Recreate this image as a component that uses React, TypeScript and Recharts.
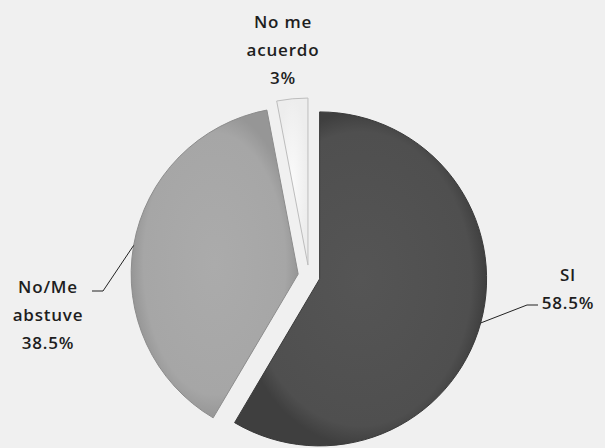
import { PieChart, Pie, Cell, Sector } from "recharts";

const categories = ["SI", "No/Me abstuve", "No me acuerdo"];
const values = [58.5, 38.5, 3];
const labelLines = [
  ["SI", "58.5%"],
  ["No/Me", "abstuve", "38.5%"],
  ["No me", "acuerdo", "3%"],
];

const data = categories.map((name, i) => ({ name, value: values[i] }));

const W = 605;
const H = 448;
const EXPLODE = 11;
const RAD = Math.PI / 180;

const fills = ["url(#gSi)", "url(#gNo)", "url(#gNr)"];
const strokes = ["#3a3a3a", "#8c8c8c", "#bdbdbd"];

// label placement relative to the pie centre; leader = elbow and end points
const labelLayout = [
  { dx: 259, dy: -2, leader: [[218, 29], [229, 29]] },
  { dx: -261, dy: 10, leader: [[-206, 15], [-217, 15]] },
  { dx: -26, dy: -255, leader: null },
];

function explodeOffset(midAngle: number) {
  return {
    x: EXPLODE * Math.cos(-midAngle * RAD),
    y: EXPLODE * Math.sin(-midAngle * RAD),
  };
}

function renderSlice(props: any) {
  const { cx, cy, midAngle, innerRadius, outerRadius, startAngle, endAngle, fill, stroke } = props;
  const o = explodeOffset(midAngle);
  return (
    <Sector
      cx={cx + o.x}
      cy={cy + o.y}
      innerRadius={innerRadius}
      outerRadius={outerRadius}
      startAngle={startAngle}
      endAngle={endAngle}
      fill={fill}
      stroke={stroke}
      strokeWidth={1}
    />
  );
}

function renderLabel(props: any) {
  const { cx, cy, midAngle, outerRadius, index } = props;
  const lay = labelLayout[index];
  const lines = labelLines[index];
  const tx = cx + lay.dx;
  const ty = cy + lay.dy;
  let leader = null;
  if (lay.leader) {
    const o = explodeOffset(midAngle);
    const sx = cx + o.x + outerRadius * Math.cos(-midAngle * RAD);
    const sy = cy + o.y + outerRadius * Math.sin(-midAngle * RAD);
    const pts = [[sx, sy], ...lay.leader.map(([x, y]) => [cx + x, cy + y])];
    leader = (
      <polyline
        points={pts.map((p) => p.join(",")).join(" ")}
        fill="none"
        stroke="#222"
        strokeWidth={1}
      />
    );
  }
  return (
    <g>
      {leader}
      <text
        x={tx}
        y={ty}
        textAnchor="middle"
        fill="#1e1e1e"
        fontFamily="Open Sans"
        fontWeight={600}
        fontSize={17}
        letterSpacing={0.8}
      >
        {lines.map((l, i) => (
          <tspan key={i} x={tx} y={ty + i * 28} dominantBaseline="central">
            {l}
          </tspan>
        ))}
      </text>
    </g>
  );
}

export default function App() {
  return (
    <div
      style={{
        position: "absolute",
        left: 0,
        top: 0,
        width: W,
        height: H,
        background: "#f0f0f0",
      }}
    >
      <PieChart width={W} height={H} margin={{ top: 0, right: 0, bottom: 0, left: 0 }}>
        <defs>
          <radialGradient id="gSi" cx="50%" cy="50%" r="50%">
            <stop offset="0%" stopColor="#555555" />
            <stop offset="88%" stopColor="#4f4f4f" />
            <stop offset="100%" stopColor="#3f3f3f" />
          </radialGradient>
          <radialGradient id="gNo" cx="50%" cy="50%" r="50%">
            <stop offset="0%" stopColor="#ababab" />
            <stop offset="85%" stopColor="#a6a6a6" />
            <stop offset="100%" stopColor="#969696" />
          </radialGradient>
          <radialGradient id="gNr" cx="50%" cy="50%" r="50%">
            <stop offset="0%" stopColor="#fafafa" />
            <stop offset="100%" stopColor="#ededed" />
          </radialGradient>
        </defs>
        <Pie
          data={data}
          dataKey="value"
          nameKey="name"
          cx={309}
          cy={276}
          outerRadius={167}
          startAngle={90}
          endAngle={-270}
          shape={renderSlice}
          label={renderLabel}
          labelLine={false}
          isAnimationActive={false}
        >
          {data.map((d, i) => (
            <Cell key={d.name} fill={fills[i]} stroke={strokes[i]} />
          ))}
        </Pie>
      </PieChart>
    </div>
  );
}
